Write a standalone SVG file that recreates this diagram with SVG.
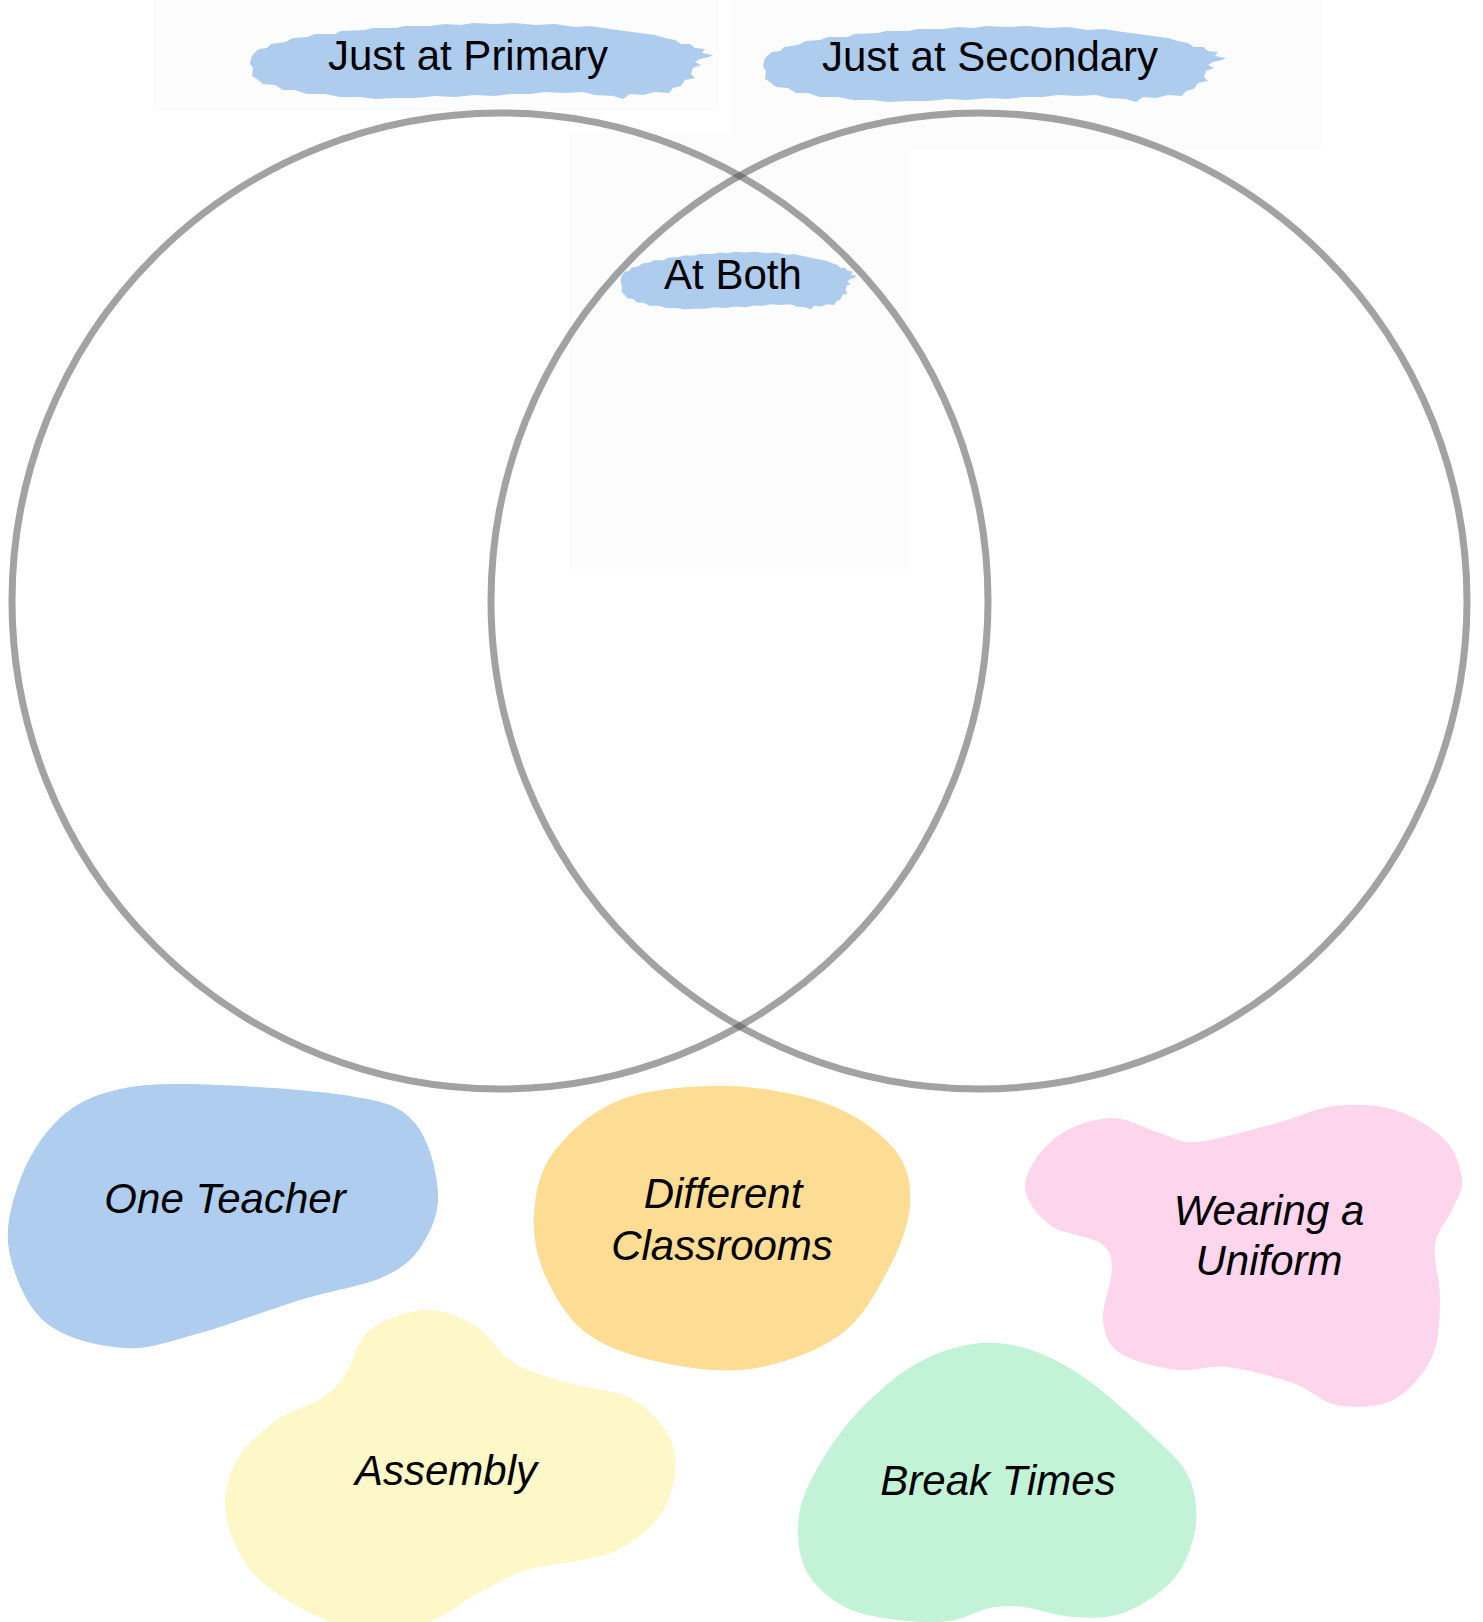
<svg xmlns="http://www.w3.org/2000/svg" width="1483" height="1622" viewBox="0 0 1483 1622">
<style>
.t{font-family:"Liberation Sans",Arial,Helvetica,sans-serif;font-size:42px;fill:#000;text-anchor:middle}
.i{font-style:italic}
.ring{fill:none;stroke:#555;stroke-opacity:0.55;stroke-width:7}
.faint{fill:#fcfcfc}
.brush{fill:#aecdee}
</style>
<defs>
<path id="brush" d="M 8,36 L 14,31 L 22,30 L 26,26 L 40,24 L 48,20 L 62,19 L 70,16 L 90,16 L 96,13 L 120,12 L 128,10 L 150,10 L 160,8 L 185,8 L 200,6 L 215,7 L 228,5 L 250,6 L 270,5 L 290,7 L 310,6 L 330,9 L 345,8 L 365,11 L 380,13 L 395,15 L 410,17 L 420,20 L 430,22 L 436,26 L 445,26 L 450,30 L 460,31 L 457,35 L 468,37 L 464,39 L 455,41 L 450,44 L 456,47 L 448,50 L 446,56 L 450,60 L 440,62 L 436,68 L 428,70 L 424,75 L 410,74 L 398,77 L 385,76 L 378,81 L 368,78 L 350,77 L 338,74 L 320,75 L 300,74 L 285,76 L 265,76 L 250,78 L 230,77 L 210,79 L 190,78 L 170,80 L 150,80 L 130,81 L 115,79 L 95,79 L 80,76 L 62,76 L 50,72 L 38,72 L 30,67 L 18,66 L 12,61 L 7,58 L 8,50 L 5,46 L 6,40 Z"/>
</defs>
<rect width="1483" height="1622" fill="#fff"/>
<rect class="faint" x="153" y="0" width="566" height="111"/>
<rect class="faint" x="731" y="0" width="590" height="150"/>
<rect class="faint" x="569" y="134" width="341" height="435"/>

<g id="label-primary">
<use href="#brush" class="brush" transform="translate(245,18)"/>
<text class="t" x="468" y="70">Just at Primary</text>
</g>
<g id="label-secondary">
<use href="#brush" class="brush" transform="translate(758,21)"/>
<text class="t" x="990" y="71">Just at Secondary</text>
</g>
<g id="label-both">
<use href="#brush" class="brush" transform="translate(618,248) scale(0.51,0.76)"/>
<text class="t" x="733" y="289">At Both</text>
</g>

<g id="connectors">
<circle id="circle-primary" class="ring" cx="500" cy="601" r="488"/>
<circle id="circle-secondary" class="ring" cx="979" cy="601" r="488"/>
</g>

<g id="one-teacher">
<path fill="#aecdef" d="M 186,1084 C 226.8,1084.5 312,1089.7 350,1096 C 388,1102.3 399.3,1106 414,1122 C 428.7,1138 436.7,1171.5 438,1192 C 439.3,1212.5 431.2,1230.8 422,1245 C 412.8,1259.2 403.3,1267.8 383,1277 C 362.7,1286.2 330.5,1290.7 300,1300 C 269.5,1309.3 229.3,1325 200,1333 C 170.7,1341 149.8,1349.8 124,1348 C 98.2,1346.2 64.2,1338.3 45,1322 C 25.8,1305.7 13.2,1273.7 9,1250 C 4.8,1226.3 12.3,1201.2 20,1180 C 27.7,1158.8 40.8,1137.5 55,1123 C 69.2,1108.5 83.2,1099.5 105,1093 C 126.8,1086.5 145.2,1083.5 186,1084 Z"/>
<text class="t i" x="225" y="1213">One Teacher</text>
</g>

<g id="different-classrooms">
<path fill="#fddc94" d="M 727,1086 C 762,1086.8 802,1094.3 830,1105 C 858,1115.7 881.7,1133.3 895,1150 C 908.3,1166.7 911.2,1185 910,1205 C 908.8,1225 899.7,1248.3 888,1270 C 876.3,1291.7 863,1318.5 840,1335 C 817,1351.5 780.8,1364.7 750,1369 C 719.2,1373.3 682.5,1367.2 655,1361 C 627.5,1354.8 603.3,1346.3 585,1332 C 566.7,1317.7 553.5,1294.5 545,1275 C 536.5,1255.5 532.7,1235.3 534,1215 C 535.3,1194.7 538.7,1172.2 553,1153 C 567.3,1133.8 591,1111.2 620,1100 C 649,1088.8 692,1085.2 727,1086 Z"/>
<text class="t i" x="723" y="1208">Different</text>
<text class="t i" x="722" y="1260">Classrooms</text>
</g>

<g id="wearing-a-uniform">
<path fill="#fdd5ec" d="M 1110,1118 C 1127.5,1117.2 1145.5,1129 1160,1133 C 1174.5,1137 1177.5,1143.7 1197,1142 C 1216.5,1140.3 1254,1129 1277,1123 C 1300,1117 1315.3,1108.2 1335,1106 C 1354.7,1103.8 1376.7,1104.3 1395,1110 C 1413.3,1115.7 1433.8,1128.3 1445,1140 C 1456.2,1151.7 1460.8,1168.3 1462,1180 C 1463.2,1191.7 1456.5,1199.2 1452,1210 C 1447.5,1220.8 1437,1230 1435,1245 C 1433,1260 1440.5,1281.3 1440,1300 C 1439.5,1318.7 1439.8,1340.3 1432,1357 C 1424.2,1373.7 1408.8,1392 1393,1400 C 1377.2,1408 1353.7,1407.8 1337,1405 C 1320.3,1402.2 1311.3,1389.3 1293,1383 C 1274.7,1376.7 1246.3,1369.2 1227,1367 C 1207.7,1364.8 1194.8,1372.3 1177,1370 C 1159.2,1367.7 1132.3,1361.3 1120,1353 C 1107.7,1344.7 1104.3,1334.2 1103,1320 C 1101.7,1305.8 1112.5,1280.8 1112,1268 C 1111.5,1255.2 1110.3,1250.2 1100,1243 C 1089.7,1235.8 1062.5,1234.7 1050,1225 C 1037.5,1215.3 1024.2,1199.5 1025,1185 C 1025.8,1170.5 1040.8,1149.2 1055,1138 C 1069.2,1126.8 1092.5,1118.8 1110,1118 Z"/>
<text class="t i" x="1269" y="1225">Wearing a</text>
<text class="t i" x="1269" y="1275">Uniform</text>
</g>

<g id="assembly">
<path fill="#fef7c7" d="M 427,1310 C 444.8,1309.5 462.8,1318.3 477,1327 C 491.2,1335.7 497.3,1352.8 512,1362 C 526.7,1371.2 545.3,1376 565,1382 C 584.7,1388 613,1389.5 630,1398 C 647,1406.5 659.5,1420.5 667,1433 C 674.5,1445.5 676.5,1458.8 675,1473 C 673.5,1487.2 668.8,1504.7 658,1518 C 647.2,1531.3 631.8,1544.3 610,1553 C 588.2,1561.7 549.5,1563 527,1570 C 504.5,1577 492.8,1585.8 475,1595 C 457.2,1604.2 442.5,1620 420,1625 C 397.5,1630 367,1632.8 340,1625 C 313,1617.2 277,1596.3 258,1578 C 239,1559.7 229.5,1534.7 226,1515 C 222.5,1495.3 228.5,1475.8 237,1460 C 245.5,1444.2 262.8,1430.3 277,1420 C 291.2,1409.7 310.7,1405.5 322,1398 C 333.3,1390.5 337,1386.3 345,1375 C 353,1363.7 356.3,1340.8 370,1330 C 383.7,1319.2 409.2,1310.5 427,1310 Z"/>
<text class="t i" x="446" y="1485">Assembly</text>
</g>

<g id="break-times">
<path fill="#c3f3d6" d="M 997,1343 C 1022,1344.7 1046.3,1353.8 1073,1370 C 1099.7,1386.2 1137.5,1421.7 1157,1440 C 1176.5,1458.3 1183.7,1465 1190,1480 C 1196.3,1495 1197.8,1513.3 1195,1530 C 1192.2,1546.7 1185,1566.2 1173,1580 C 1161,1593.8 1139.7,1606.8 1123,1613 C 1106.3,1619.2 1089.7,1618 1073,1617 C 1056.3,1616 1036.8,1608.5 1023,1607 C 1009.2,1605.5 1003.8,1605.5 990,1608 C 976.2,1610.5 962.2,1621.3 940,1622 C 917.8,1622.7 878.7,1619.5 857,1612 C 835.3,1604.5 819.8,1591 810,1577 C 800.2,1563 797.7,1544.5 798,1528 C 798.3,1511.5 802.2,1497.2 812,1478 C 821.8,1458.8 838.5,1432.7 857,1413 C 875.5,1393.3 899.7,1371.7 923,1360 C 946.3,1348.3 972,1341.3 997,1343 Z"/>
<text class="t i" x="998" y="1495">Break Times</text>
</g>
</svg>
